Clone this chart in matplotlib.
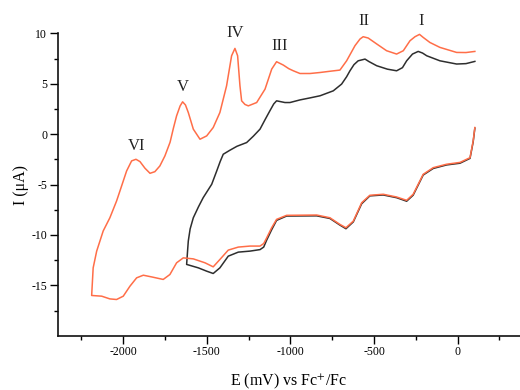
import matplotlib
matplotlib.use('Agg')
import matplotlib.pyplot as plt

plt.rcParams['font.family'] = ['Liberation Serif', 'DejaVu Serif']
plt.rcParams['mathtext.fontset'] = 'stix'
plt.rcParams['axes.unicode_minus'] = False

# orange scan: lower branch (right -> left) then upper branch (left -> right)
orange_lo_E = [103, 93, 74, 14, -66, -146, -206, -266, -305, -365, -445, -525, -574, -624,
               -668, -704, -764, -843, -1023, -1083, -1113, -1142, -1160, -1182, -1242, -1312,
               -1372, -1422, -1462, -1511, -1581, -1641, -1681, -1721, -1761, -1830, -1880,
               -1920, -1960, -2000, -2040, -2080, -2129, -2189]
orange_lo_I = [0.66, -0.66, -2.33, -2.8, -2.98, -3.32, -3.98, -5.96, -6.56, -6.23, -5.96, -6.06,
               -6.8, -8.62, -9.28, -8.95, -8.29, -8.02, -8.05, -8.45, -9.3, -10.28, -10.85, -11.1,
               -11.1, -11.2, -11.5, -12.43, -13.16, -12.76, -12.37, -12.27, -12.76, -13.92, -14.41,
               -14.16, -13.99, -14.25, -15.08, -16.07, -16.4, -16.34, -16.07, -16.0]
orange_up_E = [-2189, -2180, -2159, -2120, -2080, -2040, -2020, -1980, -1950, -1924, -1900, -1870,
               -1840, -1811, -1781, -1751, -1720, -1700, -1681, -1660, -1645, -1628, -1611, -1581,
               -1541, -1501, -1462, -1422, -1382, -1352, -1332, -1316, -1302, -1292, -1272, -1252,
               -1202, -1152, -1112, -1083, -1043, -1010, -983, -943, -883, -823, -760, -704, -664,
               -614, -584, -565, -535, -484, -425, -365, -325, -285, -255, -228, -206, -166,
               -106, -6, 50, 103]
orange_up_I = [-16.0, -13.26, -11.6, -9.6, -8.29, -6.63, -5.64, -3.65, -2.65, -2.49, -2.72, -3.38,
               -3.88, -3.72, -3.15, -2.16, -0.8, 0.6, 1.82, 2.8, 3.21, 2.9, 2.15, 0.5,
               -0.5, -0.17, 0.66, 2.15, 4.8, 7.78, 8.51, 7.78, 4.8, 3.31, 2.95, 2.81,
               3.14, 4.47, 6.46, 7.19, 6.86, 6.5, 6.29, 6.02, 6.02, 6.12, 6.25, 6.36, 7.28,
               8.78, 9.44, 9.67, 9.54, 8.95, 8.28, 7.95, 8.28, 9.27, 9.67, 9.9, 9.6, 9.1,
               8.61, 8.11, 8.1, 8.21]

# black scan
black_lo_E = [103, 93, 74, 14, -66, -146, -206, -266, -305, -365, -445, -525, -574, -624,
              -668, -704, -764, -843, -1023, -1083, -1113, -1142, -1160, -1182, -1242, -1312,
              -1372, -1422, -1462, -1501, -1551, -1621]
black_lo_I = [0.6, -0.75, -2.4, -2.88, -3.05, -3.4, -4.05, -6.05, -6.65, -6.3, -6.03, -6.12,
              -6.9, -8.7, -9.38, -9.02, -8.36, -8.1, -8.12, -8.55, -9.5, -10.5, -11.2, -11.45,
              -11.6, -11.7, -12.1, -13.26, -13.82, -13.59, -13.26, -12.92]
black_up_E = [-1621, -1615, -1611, -1600, -1581, -1550, -1522, -1471, -1441, -1420, -1402, -1362,
              -1320, -1262, -1222, -1182, -1150, -1123, -1100, -1083, -1033, -1003, -943,
              -883, -823, -744, -694, -664, -644, -620, -595, -554, -530, -484, -420, -365, -330,
              -305, -270, -236, -210, -185, -106, -6, 50, 103]
black_up_I = [-12.92, -11.5, -10.6, -9.4, -8.29, -7.2, -6.3, -4.97, -3.65, -2.7, -1.99, -1.59,
              -1.2, -0.83, -0.2, 0.5, 1.5, 2.32, 3.0, 3.31, 3.14, 3.14, 3.4,
              3.6, 3.81, 4.3, 4.97, 5.7, 6.29, 6.9, 7.28, 7.45, 7.2, 6.79, 6.45, 6.29, 6.6,
              7.28, 7.95, 8.21, 8.05, 7.78, 7.28, 6.96, 7.0, 7.22]

peak_names = ['VI', 'V', 'IV', 'III', 'II', 'I']
peak_E = [-1920, -1641, -1330, -1067, -559, -220]
peak_I = [-1.16, 4.7, 10.0, 8.78, 11.2, 11.2]

orange = '#ff6e48'
dark = '#2e2e2e'

fig = plt.figure(figsize=(5.2, 3.9), dpi=100)
ax = fig.add_axes([0.111, 0.139, 0.889, 0.7754])

ax.plot(black_lo_E + black_up_E, black_lo_I + black_up_I, color=dark, lw=1.1)
ax.plot(orange_lo_E + orange_up_E, orange_lo_I + orange_up_I, color=orange, lw=1.1)

for name, e, i in zip(peak_names, peak_E, peak_I):
    ax.text(e, i, name, ha='center', va='center', fontsize=12, color='#222222', clip_on=False)

ax.set_xlim(-2392, 373)
ax.set_ylim(-20, 10)
ax.set_xticks([-2000, -1500, -1000, -500, 0])
ax.set_xticks([-2250, -1750, -1250, -750, -250, 250], minor=True)
ax.set_yticks([-15, -10, -5, 0, 5, 10])
ax.set_yticks([-17.5, -12.5, -7.5, -2.5, 2.5, 7.5], minor=True)

for s in ['top', 'right']:
    ax.spines[s].set_visible(False)
for s in ['left', 'bottom']:
    ax.spines[s].set_linewidth(1.2)
    ax.spines[s].set_color('#111111')

ax.tick_params(which='major', direction='out', length=5.5, width=1.0, labelsize=8.5, pad=2)
ax.tick_params(which='minor', direction='out', length=3.2, width=1.0)

ax.set_xlabel('E (mV) vs Fc$^{+}$/Fc', fontsize=11.5, labelpad=10)
ax.set_ylabel('I (μA)', fontsize=11.5, labelpad=2)

plt.savefig('out.png')
plt.close()
